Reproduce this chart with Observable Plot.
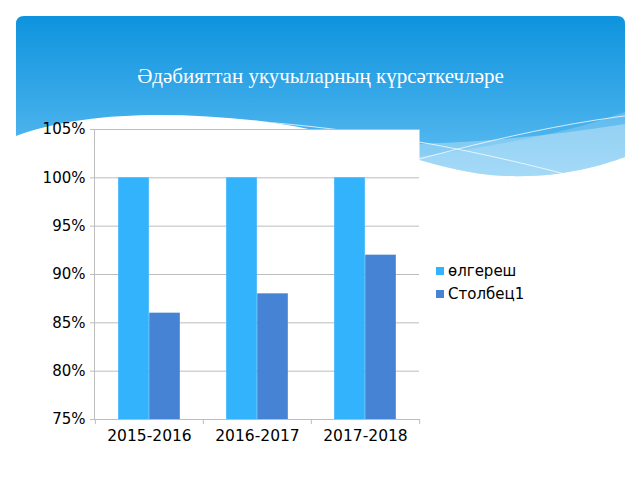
<!DOCTYPE html>
<html>
<head>
<meta charset="utf-8">
<script src="https://cdn.jsdelivr.net/npm/d3@7"></script>
<script src="https://cdn.jsdelivr.net/npm/@observablehq/plot@0.6"></script>
<style>
  html, body { margin: 0; padding: 0; background: #fff; }
  #stage { position: relative; width: 640px; height: 480px; overflow: hidden; background: #fff; }
  #bg { position: absolute; left: 0; top: 0; }
  #title { position: absolute; left: 16px; width: 609px; top: 64px; text-align: center;
           font-family: "Liberation Serif", "DejaVu Serif", serif; font-size: 21px; color: #fff; }
  #chart { position: absolute; left: 0; top: 0; }
  #legend { position: absolute; left: 436px; top: 259px; font-family: "DejaVu Sans", sans-serif; font-size: 15px; color: #000; }
  #legend .row { display: flex; align-items: center; height: 23px; }
  #legend .sw { width: 8px; height: 8px; margin-right: 4px; }
</style>
</head>
<body>
<div id="stage">
  <svg id="bg" width="640" height="480">
    <defs>
      <linearGradient id="g" x1="0" y1="0" x2="0" y2="1">
        <stop offset="0" stop-color="#0e93de"/>
        <stop offset="0.55" stop-color="#3aaae9"/>
        <stop offset="1" stop-color="#62bff1"/>
      </linearGradient>
      <clipPath id="hc">
        <path d="M16,24 Q16,16 24,16 L617,16 Q625,16 625,24 L625,157 C600,166 560,178 505,176 C430,173 360,132 260,121 C170,111 80,112 16,136 Z"/>
      </clipPath>
    </defs>
    <path d="M16,24 Q16,16 24,16 L617,16 Q625,16 625,24 L625,157 C600,166 560,178 505,176 C430,173 360,132 260,121 C170,111 80,112 16,136 Z" fill="url(#g)"/>
    <g clip-path="url(#hc)">
      <path d="M170,122 C300,150 450,152 625,124 L625,200 L170,200 Z" fill="#ffffff" fill-opacity="0.3"/>
      <path d="M300,180 C420,150 520,150 625,112 L625,200 L300,200 Z" fill="#ffffff" fill-opacity="0.18"/>
      <path d="M170,116 C300,122 420,135 580,178" fill="none" stroke="#fff" stroke-opacity="0.75" stroke-width="1"/>
      <path d="M320,185 C420,160 520,128 640,114" fill="none" stroke="#fff" stroke-opacity="0.75" stroke-width="1"/>
    </g>
  </svg>
  <div id="title">Әдәбияттан укучыларның күрсәткечләре</div>
  <div id="chart"></div>
  <div id="legend"></div>
</div>
<script>
const years = ["2015-2016", "2016-2017", "2017-2018"];
const seriesNames = ["өлгереш", "Столбец1"];
const olgeresh = [1.00, 1.00, 1.00];
const stolbec1 = [0.86, 0.88, 0.92];
const yTicks = [0.75, 0.80, 0.85, 0.90, 0.95, 1.00, 1.05];
const colors = ["#33b3fb", "#4683d5"];

const W = 640, H = 480, mL = 94, mR = 221, mT = 129, mB = 61;
const step = (W - mL - mR) / years.length;
const barW = 31;

const data = [];
years.forEach((y, i) => {
  data.push({year: y, series: seriesNames[0], value: olgeresh[i]});
  data.push({year: y, series: seriesNames[1], value: stolbec1[i]});
});

const grey = "#bdbdbd";
const font = "DejaVu Sans, sans-serif";

const plot = Plot.plot({
  width: W, height: H,
  marginLeft: mL, marginRight: mR, marginTop: mT, marginBottom: mB,
  style: {background: "transparent", fontFamily: font, fontSize: "15px", color: "#000", overflow: "visible"},
  x: {type: "band", domain: years, padding: 0},
  y: {domain: [yTicks[0], yTicks[yTicks.length - 1]]},
  marks: [
    Plot.frame({fill: "white", stroke: null}),
    Plot.gridY(yTicks, {stroke: grey, strokeOpacity: 1}),
    Plot.barY(data.filter(d => d.series === seriesNames[0]), {
      x: "year", y1: yTicks[0], y2: "value", fill: colors[0],
      insetLeft: step / 2 - barW, insetRight: step / 2
    }),
    Plot.barY(data.filter(d => d.series === seriesNames[1]), {
      x: "year", y1: yTicks[0], y2: "value", fill: colors[1],
      insetLeft: step / 2, insetRight: step / 2 - barW
    }),
    Plot.frame({anchor: "left", stroke: grey}),
    Plot.frame({anchor: "bottom", stroke: grey}),
    Plot.axisY(yTicks, {tickFormat: d3.format(".0%"), tickSize: 4, tickPadding: 5, stroke: grey, fill: "#000", label: null, fontSize: 15}),
    Plot.axisX(years, {tickSize: 5, dx: -step / 2, tickFormat: () => "", stroke: grey, label: null}),
    Plot.axisX([years[years.length - 1]], {tickSize: 5, dx: step / 2, tickFormat: () => "", stroke: grey, label: null}),
    Plot.axisX(years, {tickSize: 0, tickPadding: 10, fill: "#000", label: null, fontSize: 15.5})
  ]
});
document.getElementById("chart").appendChild(plot);

const legend = document.getElementById("legend");
seriesNames.forEach((s, i) => {
  const row = document.createElement("div");
  row.className = "row";
  row.innerHTML = `<div class="sw" style="background:${colors[i]}"></div><span>${s}</span>`;
  legend.appendChild(row);
});
</script>
</body>
</html>
